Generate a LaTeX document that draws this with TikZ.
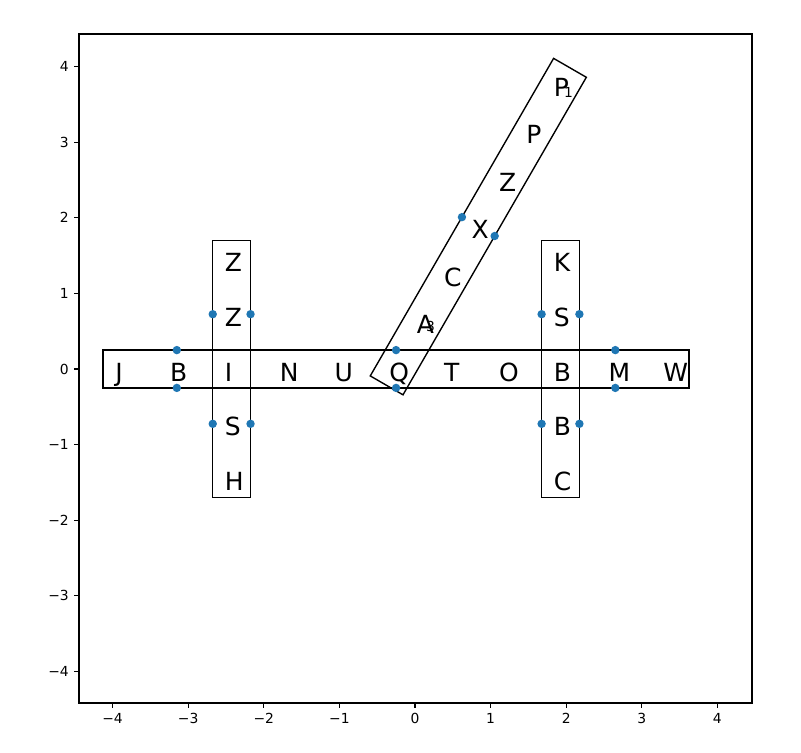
\documentclass[tikz,border=0pt]{standalone}
\usepackage{fontspec}
\setmainfont{DejaVu Sans}
\definecolor{dotblue}{HTML}{1F77B4}
\begin{document}
\begin{tikzpicture}[x=1cm,y=1cm,
  letter/.style={font=\fontsize{9.4}{11}\selectfont, inner sep=0pt, anchor=base west, xshift=-0.95mm, yshift=-1.61mm},
  idx/.style={font=\fontsize{5.2}{6}\selectfont, inner sep=0pt},
  ticklab/.style={font=\fontsize{5.22}{6}\selectfont, inner sep=0pt},
  wordbox/.style={draw=black, line width=0.52pt},
  frame/.style={draw=black, line width=0.415pt},
  pt/.style={fill=dotblue, draw=none}]
\useasboundingbox[fill=white] (-5.489,-5.066) rectangle (5.106,4.881);
% axes frame
\draw[frame] (-4.444,-4.418) rectangle (4.458,4.431);
\foreach \v/\t in {-4/−4,-3/−3,-2/−2,-1/−1,0/0,1/1,2/2,3/3,4/4}{
  \draw[frame] (\v,-4.418) -- (\v,-4.482);
  \node[ticklab, anchor=north] (xt\v) at (\v,-4.546) {\t};
  \draw[frame] (-4.444,\v) -- (-4.508,\v);
  \node[ticklab, anchor=east] (yt\v) at (-4.573,\v) {\t};
}
% word boxes
\draw[wordbox] (-4.125,-0.25) rectangle (3.625,0.25);
\draw[wordbox] (-2.675,-1.70) rectangle (-2.175,1.70);
\draw[wordbox] (1.675,-1.70) rectangle (2.175,1.70);
\begin{scope}[shift={(-0.25,0)},rotate=60]
  \draw[wordbox] (-0.25,-0.25) rectangle (4.6,0.25);
\end{scope}
% horizontal word
\foreach \k/\c in {0/J,1/B,2/I,3/N,4/U,5/Q,6/T,7/O,8/B,9/M,10/W}{
  \node[letter] (h\k) at ({-0.25+(\k-5)*0.725},0) {\c};
}
% left column
\foreach \k/\c in {2/Z,1/Z,-1/S,-2/H}{
  \node[letter] (l\k) at (-2.425,{\k*0.725}) {\c};
}
% right column
\foreach \k/\c in {2/K,1/S,-1/B,-2/C}{
  \node[letter] (r\k) at (1.925,{\k*0.725}) {\c};
}
% tilted word
\foreach \k/\c in {1/A,2/C,3/X,4/Z,5/P,6/P}{
  \node[letter] (t\k) at ({-0.25+\k*0.725*cos(60)},{\k*0.725*sin(60)}) {\c};
}
\node[idx] (n1) at (2.03,3.66) {1};
\node[idx] (n3) at (0.207,0.561) {3};
% dots
\foreach \p in {(-3.15,0.25),(-3.15,-0.25),(-0.25,0.25),(-0.25,-0.25),(2.65,0.25),(2.65,-0.25),
  (-2.675,0.725),(-2.175,0.725),(-2.675,-0.725),(-2.175,-0.725),
  (1.675,0.725),(2.175,0.725),(1.675,-0.725),(2.175,-0.725),
  (0.621,2.009),(1.054,1.759)}{
  \fill[pt] \p circle (0.0556);
}
\end{tikzpicture}
\end{document}
